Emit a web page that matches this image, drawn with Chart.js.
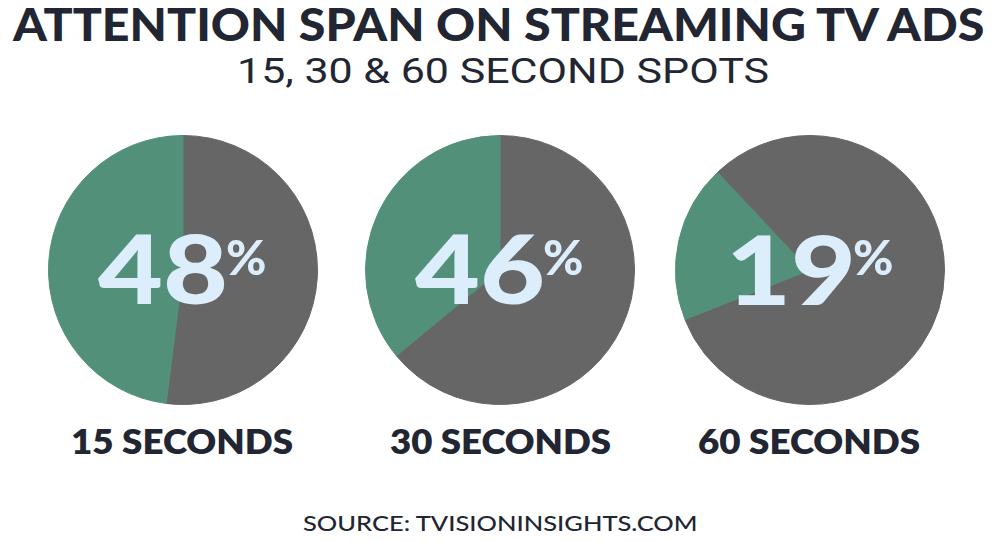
<!DOCTYPE html>
<html>
<head>
<meta charset="utf-8">
<script src="https://cdn.jsdelivr.net/npm/chart.js@4.4.1/dist/chart.umd.min.js"></script>
<style>
    html, body { margin: 0; padding: 0; background: #fff; }
    #stage { position: relative; width: 1000px; height: 542px; overflow: hidden; }
    .txt { position: absolute; white-space: nowrap; transform-origin: 0 0; color: #212632; }
    .pie { position: absolute; top: 135px; width: 270px; height: 270px; }
    .num { color: #dcedfb; }
</style>
</head>
<body>
<div id="stage"></div>
<script>
// values
const spotLabels = ['15 SECONDS', '30 SECONDS', '60 SECONDS'];
const printedPercent = ['48', '46', '19'];
const attentiveShare = [48, 36, 19];      // size of the green slice
const shareBeforeGreen = [0, 0, 12];      // grey slice between 12 o'clock and the green one (counter-clockwise)
const sliceNames = ['Not watching', 'Watching', 'Not watching'];

const GREEN = '#52907a';
const GREY = '#666666';
const pieCenters = [182.5, 500, 809.5];

const stage = document.getElementById('stage');
const mctx = document.createElement('canvas').getContext('2d');

function measure(weight, family, size, text) {
    mctx.font = weight + ' ' + size + 'px ' + family;
    return mctx.measureText(text);
}

// put a text so that its ink fills x0..x1 and yTop..yBottom
function placeText(text, weight, family, x0, x1, yTop, yBottom, opts) {
    opts = opts || {};
    const ref = opts.ref || text;
    const r = measure(weight, family, 100, ref);
    const size = opts.size || (yBottom - yTop) / ((r.actualBoundingBoxAscent + r.actualBoundingBoxDescent) / 100);
    const m = measure(weight, family, size, text);
    const inkW = m.actualBoundingBoxLeft + m.actualBoundingBoxRight;
    const sx = opts.sx || (x1 - x0) / inkW;
    let left = x0 + m.actualBoundingBoxLeft * sx;
    if (opts.alignRight) left = x1 - m.actualBoundingBoxRight * sx;
    const baseline = yBottom - r.actualBoundingBoxDescent * size / 100;
    const el = document.createElement('div');
    el.className = 'txt' + (opts.cls ? ' ' + opts.cls : '');
    el.textContent = text;
    el.style.font = weight + ' ' + size + 'px ' + family;
    el.style.lineHeight = (m.fontBoundingBoxAscent + m.fontBoundingBoxDescent) + 'px';
    el.style.top = (baseline - m.fontBoundingBoxAscent) + 'px';
    el.style.left = left + 'px';
    el.style.transform = 'scaleX(' + sx + ')';
    stage.appendChild(el);
    return { size: size, sx: sx };
}

// titles
placeText('ATTENTION SPAN ON STREAMING TV ADS', '900', 'Lato', 11.7, 988, 7.5, 41);
placeText('15, 30 & 60 SECOND SPOTS', '400', 'Roboto', 240.7, 767.5, 56.7, 83.3, { ref: '15 30 60 SECOND SPOTS' });
placeText('SOURCE: TVISIONINSIGHTS.COM', '500', 'Lato', 303, 697, 515.3, 531.5);

let numFit = null, pctFit = null;
spotLabels.forEach(function (label, i) {
    const cx = pieCenters[i];
    const box = document.createElement('div');
    box.className = 'pie';
    box.style.left = (cx - 135) + 'px';
    const canvas = document.createElement('canvas');
    box.appendChild(canvas);
    stage.appendChild(box);

    new Chart(canvas, {
        type: 'pie',
        data: {
            labels: sliceNames,
            datasets: [{
                data: [100 - attentiveShare[i] - shareBeforeGreen[i], attentiveShare[i], shareBeforeGreen[i]],
                backgroundColor: [GREY, GREEN, GREY],
                borderColor: [GREY, GREEN, GREY],
                borderWidth: 1,
                hoverOffset: 0,
                offset: 0
            }]
        },
        options: {
            responsive: true,
            maintainAspectRatio: false,
            animation: false,
            layout: { padding: 0 },
            plugins: {
                legend: { display: false },
                tooltip: { enabled: false }
            }
        }
    });

    // big percentage, right aligned against the % sign
    if (!numFit) {
        numFit = placeText(printedPercent[i], '900', 'Lato', cx - 84.2, cx + 42.5, 235, 305, { cls: 'num' });
        pctFit = placeText('%', '900', 'Lato', cx + 44.2, cx + 82.5, 240, 275, { cls: 'num' });
    } else {
        placeText(printedPercent[i], '900', 'Lato', 0, cx + 42.5, 235, 305, { cls: 'num', size: numFit.size, sx: numFit.sx, alignRight: true });
        placeText('%', '900', 'Lato', 0, cx + 82.5, 240, 275, { cls: 'num', size: pctFit.size, sx: pctFit.sx, alignRight: true });
    }

    // label under the pie
    placeText(label, '800', 'Lato', cx - 110, cx + 110, 428.3, 454);
});
</script>
</body>
</html>
